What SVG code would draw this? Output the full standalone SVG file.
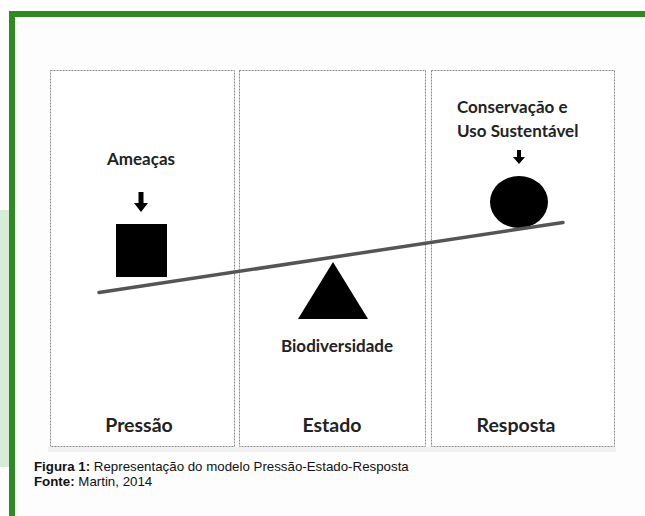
<svg xmlns="http://www.w3.org/2000/svg" width="645" height="516" viewBox="0 0 645 516">
<style>
.panel{fill:#ffffff;stroke:#8a8a8a;stroke-width:1;stroke-dasharray:2 1}
.lbl{font-family:Lato,"Open Sans",sans-serif;font-weight:bold;fill:#222;text-anchor:middle}
.sm{font-size:17px}
.big{font-size:19.5px}
.cap{font-family:"Liberation Sans",Arial,sans-serif;font-size:13.3px;fill:#111}
</style>
<rect x="0" y="0" width="645" height="516" fill="#ffffff"/>
<rect x="0" y="210" width="9" height="257" fill="#d7ebd9"/>
<rect x="15" y="17" width="630" height="499" fill="#fdfdfd"/>
<rect x="9" y="11" width="636" height="6" fill="#2e8b22"/>
<rect x="9" y="11" width="6" height="505" fill="#2e8b22"/>
<rect x="48" y="447" width="568" height="5" fill="#f1f1f1"/>
<g id="pressao">
<rect class="panel" x="50.5" y="70.5" width="184" height="376"/>
<text class="lbl big" x="139" y="432">Pressão</text>
</g>
<g id="estado">
<rect class="panel" x="239.5" y="70.5" width="186" height="376"/>
<text class="lbl big" x="332" y="432">Estado</text>
</g>
<g id="resposta">
<rect class="panel" x="431.5" y="70.5" width="183" height="376"/>
<text class="lbl big" x="516" y="432">Resposta</text>
</g>
<g id="ameacas">
<text class="lbl sm" x="141" y="165">Ameaças</text>
<polygon points="138.5,192 143.5,192 143.5,203 148,203 141,212 134,203 138.5,203" fill="#000"/>
<rect x="116" y="224" width="51" height="53" fill="#000"/>
</g>
<g id="conservacao">
<text class="lbl sm" x="457" y="113" style="text-anchor:start">Conservação e</text>
<text class="lbl sm" x="457" y="137" style="text-anchor:start">Uso Sustentável</text>
<polygon points="517,150 521,150 521,157 525,157 519,164 513,157 517,157" fill="#000"/>
<ellipse cx="519" cy="202" rx="29" ry="26" fill="#000"/>
</g>
<g id="biodiversidade">
<polygon points="333,262 368,319 298,319" fill="#000"/>
<text class="lbl sm" x="337" y="352">Biodiversidade</text>
</g>
<g id="connectors">
<line x1="99" y1="292.5" x2="563" y2="222.5" stroke="#555" stroke-width="3.5" stroke-linecap="round"/>
</g>
<text class="cap" x="34" y="471"><tspan font-weight="bold">Figura 1:</tspan> Representação do modelo Pressão-Estado-Resposta</text>
<text class="cap" x="34" y="486"><tspan font-weight="bold">Fonte:</tspan> Martin, 2014</text>
</svg>
